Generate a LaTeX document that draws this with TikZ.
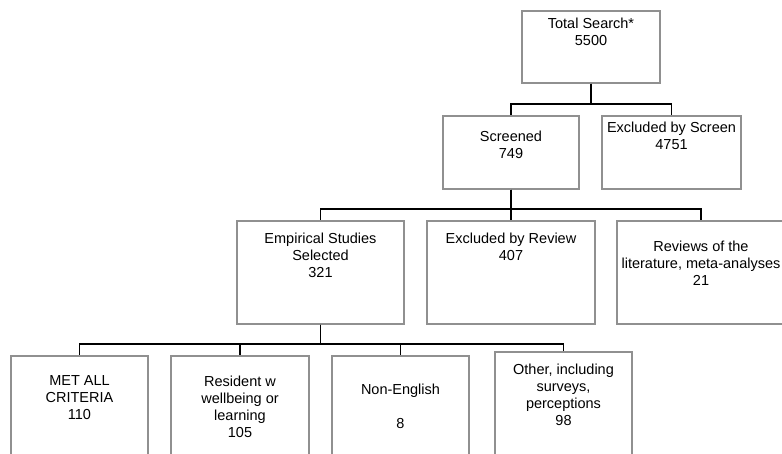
\documentclass[tikz,border=0pt]{standalone}
\usepackage{fontspec}
\setmainfont{Liberation Sans}
\usepackage{tikz}
\usetikzlibrary{positioning}

\definecolor{boxgray}{HTML}{909090}

\begin{document}
\begin{tikzpicture}[
      x=1pt,
      y=-1pt,
      cbox/.style={
          rectangle,
          draw=boxgray,
          line width=1.4pt,
          minimum height=73pt
        },
      midbox/.style={
          cbox,
          minimum height=103pt
        },
      lowbox/.style={
          cbox,
          minimum width=137pt,
          minimum height=114pt
        },
      txt/.style={
          align=center,
          inner sep=0pt,
          anchor=north,
          font=\fontsize{14.5}{17}\selectfont
        },
      link/.style={
          line width=1.6pt,
          black
        }
    ]
    \useasboundingbox (0,0) rectangle (782,453);

    % Nodes
    \node[cbox, minimum width=138pt, minimum height=72pt,
      label={[txt, yshift=-7pt]north:Total Search*\\5500}] (total) at (591,47) {};
    \node[cbox, minimum width=136pt,
      label={[txt, yshift=-15.5pt]north:Screened\\749}] (screened) at (511,152.5) {};
    \node[cbox, minimum width=139pt,
      label={[txt, yshift=-6.5pt]north:Excluded by Screen\\4751}] (exscreen) at (671.5,152.5) {};
    \node[midbox, minimum width=167pt,
      label={[txt, yshift=-12.5pt]north:Empirical Studies\\Selected\\321}] (empirical) at (320.5,272.5) {};
    \node[midbox, minimum width=168pt,
      label={[txt, yshift=-12.5pt]north:Excluded by Review\\407}] (exreview) at (511,272.5) {};
    \node[midbox, minimum width=168pt,
      label={[txt, yshift=-20.5pt]north:Reviews of the\\literature, meta-analyses\\21}] (reviews) at (701,272.5) {};
    \node[lowbox,
      label={[txt, yshift=-20.5pt]north:MET ALL\\CRITERIA\\110}] (metall) at (79.5,413) {};
    \node[lowbox, minimum width=138pt,
      label={[txt, yshift=-20.5pt]north:Resident w\\wellbeing or\\learning\\105}] (resident) at (240,413) {};
    \node[lowbox,
      label={[txt, yshift=-28.5pt]north:Non-English\\[17pt]8}] (nonenglish) at (400.5,413) {};
    \node[lowbox, minimum height=118pt,
      label={[txt, yshift=-12.5pt]north:Other, including\\surveys,\\perceptions\\98}] (other) at (563.5,411) {};

    % Connectors
    \draw[link] (total.south) -- ++(0,20) -| (screened.north);
    \draw[link] (total.south) -- ++(0,20) -| (exscreen.north);
    \foreach \child in {empirical, exreview, reviews}
      \draw[link] (screened.south) -- ++(0,19) -| (\child.north);
    \foreach \child in {metall, resident, nonenglish, other}
      \draw[link] (empirical.south) -- ++(0,19) -| (\child.north);

  \end{tikzpicture}
\end{document}
